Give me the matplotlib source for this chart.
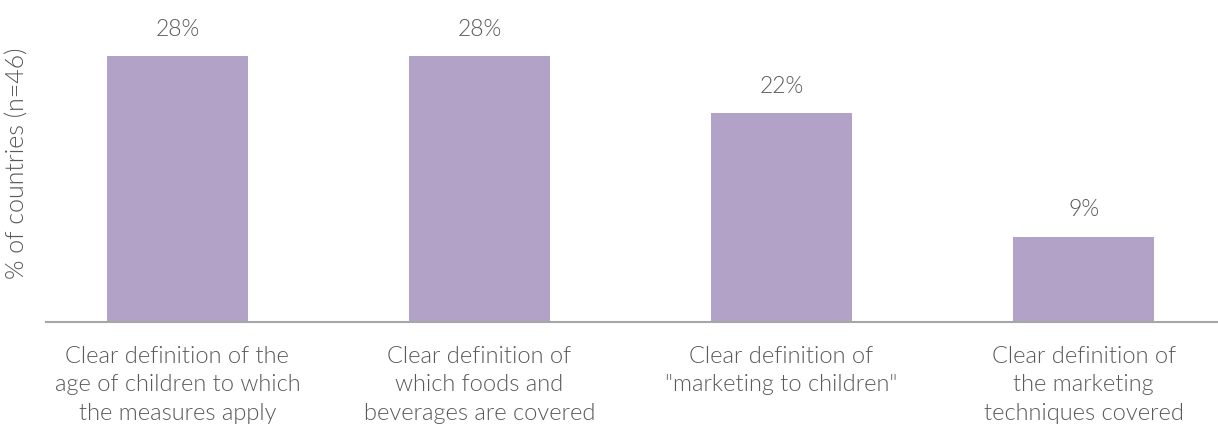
import matplotlib
matplotlib.use("Agg")
import matplotlib.pyplot as plt
from matplotlib import font_manager as fm

categories = [
    "Clear definition of the\nage of children to which\nthe measures apply",
    "Clear definition of\nwhich foods and\nbeverages are covered",
    "Clear definition of\n\"marketing to children\"",
    "Clear definition of\nthe marketing\ntechniques covered",
]
values = [28, 28, 22, 9]
value_labels = ["28%", "28%", "22%", "9%"]
ylabel = "% of countries (n=46)"

# find a Lato Light face if present
light_path = None
for f in fm.findSystemFonts():
    name = f.lower()
    if "lato" in name and "light" in name and "italic" not in name:
        light_path = f
        break
if light_path:
    fp = fm.FontProperties(fname=light_path)
else:
    fp = fm.FontProperties(family="Lato", weight=300)

text_color = "#595959"
bar_color = "#b3a2c7"

W, H = 1218, 428
fig = plt.figure(figsize=(W / 100, H / 100), dpi=100)
x0, x1 = 46, 1218
y_base = 322
ax = fig.add_axes([x0 / W, (H - y_base) / H, (x1 - x0) / W, y_base / H])

xs = list(range(len(values)))
ax.bar(xs, values, width=0.465, color=bar_color, zorder=2)
ax.set_xlim(-0.435, 3.445)
ax.set_ylim(0, 322 / 9.5)

for x, v, lab in zip(xs, values, value_labels):
    ax.text(x, v + 1.7, lab, ha="center", va="bottom", fontproperties=fp,
            fontsize=16.5, color=text_color)

ax.set_xticks(xs)
ax.set_xticklabels(categories, fontproperties=fp, fontsize=17, color=text_color,
                   linespacing=1.45)
ax.tick_params(axis="x", length=0, pad=17)
ax.set_yticks([])
for s in ["top", "right", "left"]:
    ax.spines[s].set_visible(False)
ax.spines["bottom"].set_color("#a6a6a6")
ax.spines["bottom"].set_linewidth(1.5)

fig.text(18 / W, 1 - 163 / H, ylabel, rotation=90, ha="center", va="center",
         fontproperties=fp, fontsize=18, color=text_color)

fig.savefig("out.png", dpi=100)
